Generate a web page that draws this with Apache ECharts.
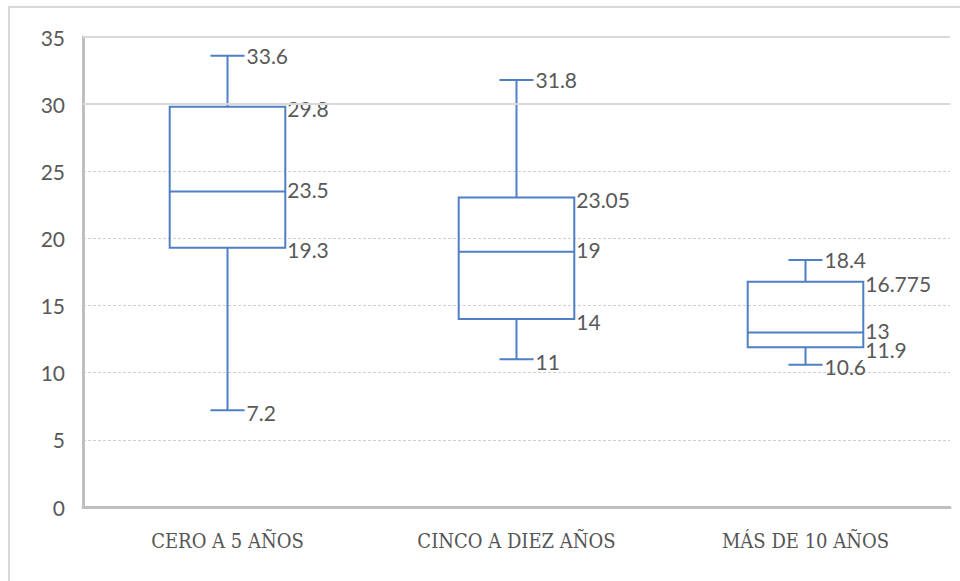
<!DOCTYPE html>
<html>
<head>
<meta charset="utf-8">
<script src="https://cdn.jsdelivr.net/npm/echarts@6/dist/echarts.min.js"></script>
<style>
  html, body { margin: 0; padding: 0; background: #fff; }
  #chart { width: 960px; height: 581px; }
</style>
</head>
<body>
<div id="chart"></div>
<script>
// Age groups and their five-number summaries
const categories = ['CERO A 5 AÑOS', 'CINCO A DIEZ AÑOS', 'MÁS DE 10 AÑOS'];
const minValues    = [7.2, 11, 10.6];
const q1Values     = [19.3, 14, 11.9];
const medianValues = [23.5, 19, 13];
const q3Values     = [29.8, 23.05, 16.775];
const maxValues    = [33.6, 31.8, 18.4];
const yTicks = [0, 5, 10, 15, 20, 25, 30, 35];

const BLUE = '#4f7fc4';
const TEXT = '#595959';
const VALUE_FONT = 'Lato, "Liberation Sans", sans-serif';

const boxData = categories.map((c, i) => [i, minValues[i], q1Values[i], medianValues[i], q3Values[i], maxValues[i]]);

function renderBox(params, api) {
  const idx = api.value(0);
  const vals = [api.value(1), api.value(2), api.value(3), api.value(4), api.value(5)];
  const band = api.size([1, 0])[0];
  const boxHalf = band * 0.2;
  const capHalf = band * 0.059;
  const x = api.coord([idx, 0])[0];
  const y = vals.map(v => api.coord([idx, v])[1]);
  const [yMin, yQ1, yMed, yQ3, yMax] = y;
  const ls = { stroke: BLUE, lineWidth: 2, fill: null };
  const children = [
    { type: 'line', shape: { x1: x, y1: yMax, x2: x, y2: yQ3 }, style: ls },
    { type: 'line', shape: { x1: x, y1: yQ1, x2: x, y2: yMin }, style: ls },
    { type: 'line', shape: { x1: x - capHalf, y1: yMax, x2: x + capHalf, y2: yMax }, style: ls },
    { type: 'line', shape: { x1: x - capHalf, y1: yMin, x2: x + capHalf, y2: yMin }, style: ls },
    { type: 'rect', shape: { x: x - boxHalf, y: yQ3, width: boxHalf * 2, height: yQ1 - yQ3 }, style: { stroke: BLUE, lineWidth: 2, fill: 'transparent' } },
    { type: 'line', shape: { x1: x - boxHalf, y1: yMed, x2: x + boxHalf, y2: yMed }, style: ls }
  ];
  const label = (text, lx, ly) => ({
    type: 'text',
    style: { text: String(text), x: lx, y: ly, fill: TEXT, font: '21px ' + VALUE_FONT, textAlign: 'left', textVerticalAlign: 'middle' }
  });
  children.push(label(vals[4], x + capHalf + 2, yMax));
  children.push(label(vals[0], x + capHalf + 2, yMin + 2));
  children.push(label(vals[3], x + boxHalf + 2, yQ3 + 2));
  children.push(label(vals[2], x + boxHalf + 2, yMed - 2));
  children.push(label(vals[1], x + boxHalf + 2, yQ1 + 2));
  return { type: 'group', children };
}

const chart = echarts.init(document.getElementById('chart'), null, { renderer: 'svg' });
chart.setOption({
  animation: false,
  backgroundColor: '#fff',
  graphic: [
    { type: 'rect', shape: { x: 9, y: 7, width: 1000, height: 1000 }, style: { fill: 'none', stroke: '#d9d9d9', lineWidth: 2 }, silent: true }
  ],
  grid: { left: 83, right: 10, top: 37, bottom: 74 },
  xAxis: {
    type: 'category',
    data: categories,
    axisLine: { lineStyle: { color: '#bfbfbf', width: 3 } },
    axisTick: { show: false },
    axisLabel: { color: '#555555', fontFamily: '"DejaVu Serif Condensed", "DejaVu Serif", serif', fontSize: 20, margin: 24 },
    splitLine: { show: false }
  },
  yAxis: {
    type: 'value',
    min: yTicks[0],
    max: yTicks[yTicks.length - 1],
    interval: 5,
    axisLine: { show: true, lineStyle: { color: '#bfbfbf', width: 3 } },
    axisTick: { show: false },
    axisLabel: { color: TEXT, fontFamily: VALUE_FONT, fontSize: 21, margin: 18 },
    splitLine: { show: true, lineStyle: { color: '#cfcfcf', type: [3, 2], width: 1 } }
  },
  series: [
    {
      type: 'custom',
      renderItem: renderBox,
      data: boxData,
      encode: { x: 0, y: [1, 2, 3, 4, 5] },
      silent: true,
      markLine: {
        silent: true,
        symbol: 'none',
        label: { show: false },
        lineStyle: { color: '#d9d9d9', type: 'solid', width: 2 },
        data: [{ yAxis: 30 }, { yAxis: 35 }]
      }
    }
  ]
});
</script>
</body>
</html>
